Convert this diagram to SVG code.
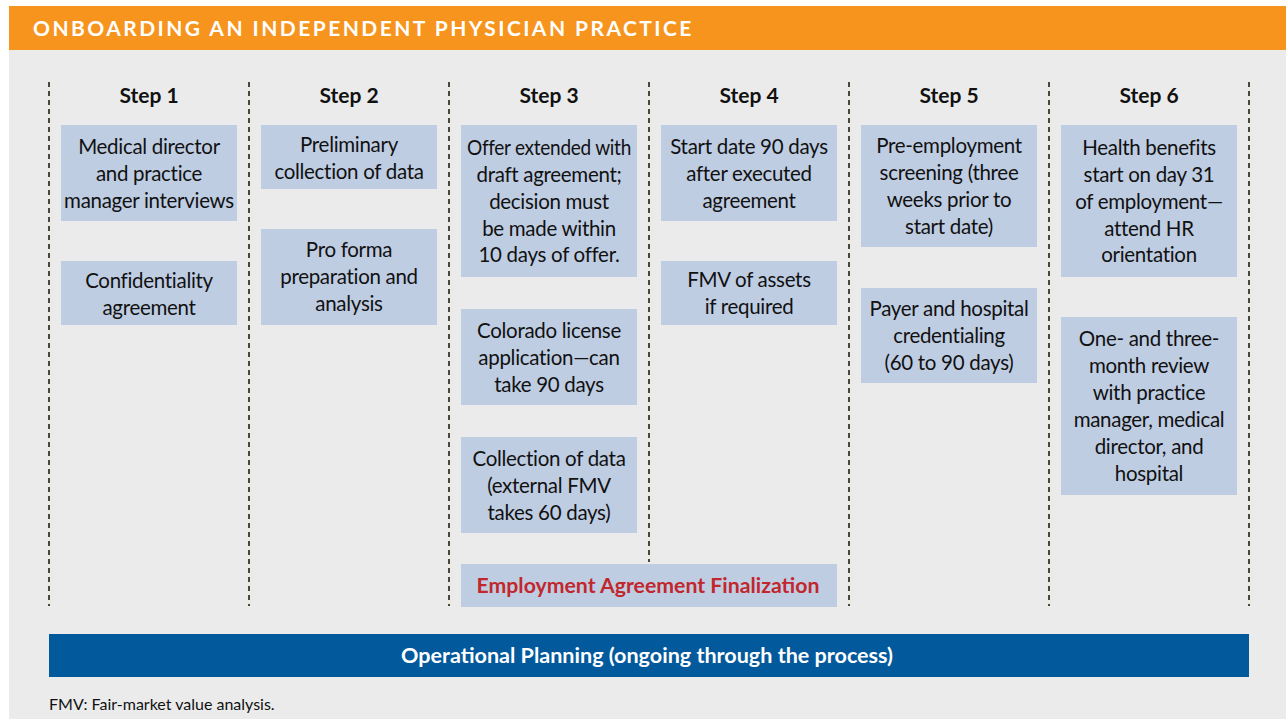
<svg xmlns="http://www.w3.org/2000/svg" width="1286" height="719" viewBox="0 0 1286 719">
<style>
.bg{fill:#ebebeb}
.hdr{fill:#f7941d}
.ttl{font-family:Lato,"Liberation Sans",sans-serif;font-weight:700;font-size:21px;fill:#fff;letter-spacing:2.6px}
.step{font-family:Lato,"Liberation Sans",sans-serif;font-weight:700;font-size:21px;fill:#111;text-anchor:middle}
.box{fill:#bfcde3}
.t{font-family:Lato,"Liberation Sans",sans-serif;font-size:20.5px;fill:#111;text-anchor:middle;letter-spacing:-0.3px}
.red{font-family:Lato,"Liberation Sans",sans-serif;font-weight:700;font-size:21px;fill:#c1272d;text-anchor:middle}
.sep{stroke:#474747;stroke-width:2;stroke-dasharray:5 4;fill:none}
.sep2{stroke:#f1e6c4;stroke-width:1;fill:none}
.bar{fill:#02599c}
.bart{font-family:Lato,"Liberation Sans",sans-serif;font-weight:700;font-size:21px;fill:#fff;text-anchor:middle}
.fn{font-family:Lato,"Liberation Sans",sans-serif;font-size:16px;fill:#111}
</style>
<rect x="0" y="0" width="1286" height="719" fill="#fff"/>
<rect class="bg" x="9" y="49" width="1277" height="670"/>
<rect class="hdr" x="9" y="6" width="1277" height="44"/>
<text class="ttl" x="33" y="36" textLength="661" lengthAdjust="spacing">ONBOARDING AN INDEPENDENT PHYSICIAN PRACTICE</text>

<g id="connectors">
<line class="sep2" x1="50" y1="82" x2="50" y2="606"/>
<line class="sep" x1="49" y1="82" x2="49" y2="606"/>
<line class="sep2" x1="250" y1="82" x2="250" y2="606"/>
<line class="sep" x1="249" y1="82" x2="249" y2="606"/>
<line class="sep2" x1="450" y1="82" x2="450" y2="606"/>
<line class="sep" x1="449" y1="82" x2="449" y2="606"/>
<line class="sep2" x1="650" y1="82" x2="650" y2="562"/>
<line class="sep" x1="649" y1="82" x2="649" y2="562"/>
<line class="sep2" x1="850" y1="82" x2="850" y2="606"/>
<line class="sep" x1="849" y1="82" x2="849" y2="606"/>
<line class="sep2" x1="1050" y1="82" x2="1050" y2="606"/>
<line class="sep" x1="1049" y1="82" x2="1049" y2="606"/>
<line class="sep2" x1="1250" y1="82" x2="1250" y2="606"/>
<line class="sep" x1="1249" y1="82" x2="1249" y2="606"/>
</g>

<g id="step1">
<text class="step" x="149" y="103">Step 1</text>
<g id="s1b1"><rect class="box" x="61" y="125" width="176" height="96"/>
<text class="t" x="149" y="154">Medical director</text>
<text class="t" x="149" y="181">and practice</text>
<text class="t" x="149" y="208">manager interviews</text></g>
<g id="s1b2"><rect class="box" x="61" y="261" width="176" height="64"/>
<text class="t" x="149" y="288">Confidentiality</text>
<text class="t" x="149" y="315">agreement</text></g>
</g>

<g id="step2">
<text class="step" x="349" y="103">Step 2</text>
<g id="s2b1"><rect class="box" x="261" y="125" width="176" height="64"/>
<text class="t" x="349" y="152">Preliminary</text>
<text class="t" x="349" y="179">collection of data</text></g>
<g id="s2b2"><rect class="box" x="261" y="229" width="176" height="96"/>
<text class="t" x="349" y="257">Pro forma</text>
<text class="t" x="349" y="284">preparation and</text>
<text class="t" x="349" y="311">analysis</text></g>
</g>

<g id="step3">
<text class="step" x="549" y="103">Step 3</text>
<g id="s3b1"><rect class="box" x="461" y="125" width="176" height="152"/>
<text class="t" x="549" y="155" textLength="164" lengthAdjust="spacingAndGlyphs">Offer extended with</text>
<text class="t" x="549" y="182">draft agreement;</text>
<text class="t" x="549" y="209">decision must</text>
<text class="t" x="549" y="236">be made within</text>
<text class="t" x="549" y="262">10 days of offer.</text></g>
<g id="s3b2"><rect class="box" x="461" y="309" width="176" height="96"/>
<text class="t" x="549" y="338">Colorado license</text>
<text class="t" x="549" y="365">application—can</text>
<text class="t" x="549" y="392">take 90 days</text></g>
<g id="s3b3"><rect class="box" x="461" y="437" width="176" height="96"/>
<text class="t" x="549" y="466">Collection of data</text>
<text class="t" x="549" y="493">(external FMV</text>
<text class="t" x="549" y="520">takes 60 days)</text></g>
</g>

<g id="step4">
<text class="step" x="749" y="103">Step 4</text>
<g id="s4b1"><rect class="box" x="661" y="125" width="176" height="96"/>
<text class="t" x="749" y="154">Start date 90 days</text>
<text class="t" x="749" y="181">after executed</text>
<text class="t" x="749" y="208">agreement</text></g>
<g id="s4b2"><rect class="box" x="661" y="261" width="176" height="64"/>
<text class="t" x="749" y="287">FMV of assets</text>
<text class="t" x="749" y="314">if required</text></g>
</g>

<g id="finalization">
<rect class="box" x="461" y="564" width="376" height="43"/>
<text class="red" x="648" y="593" textLength="343" lengthAdjust="spacingAndGlyphs">Employment Agreement Finalization</text>
</g>

<g id="step5">
<text class="step" x="949" y="103">Step 5</text>
<g id="s5b1"><rect class="box" x="861" y="125" width="176" height="122"/>
<text class="t" x="949" y="153">Pre-employment</text>
<text class="t" x="949" y="180">screening (three</text>
<text class="t" x="949" y="207">weeks prior to</text>
<text class="t" x="949" y="234">start date)</text></g>
<g id="s5b2"><rect class="box" x="861" y="288" width="176" height="95"/>
<text class="t" x="949" y="316">Payer and hospital</text>
<text class="t" x="949" y="343">credentialing</text>
<text class="t" x="949" y="370">(60 to 90 days)</text></g>
</g>

<g id="step6">
<text class="step" x="1149" y="103">Step 6</text>
<g id="s6b1"><rect class="box" x="1061" y="125" width="176" height="152"/>
<text class="t" x="1149" y="155">Health benefits</text>
<text class="t" x="1149" y="182">start on day 31</text>
<text class="t" x="1149" y="209">of employment—</text>
<text class="t" x="1149" y="236">attend HR</text>
<text class="t" x="1149" y="262">orientation</text></g>
<g id="s6b2"><rect class="box" x="1061" y="317" width="176" height="178"/>
<text class="t" x="1149" y="346">One- and three-</text>
<text class="t" x="1149" y="373">month review</text>
<text class="t" x="1149" y="400">with practice</text>
<text class="t" x="1149" y="427">manager, medical</text>
<text class="t" x="1149" y="454">director, and</text>
<text class="t" x="1149" y="481">hospital</text></g>
</g>

<g id="operational">
<rect class="bar" x="49" y="634" width="1200" height="43"/>
<text class="bart" x="647" y="663" textLength="492" lengthAdjust="spacingAndGlyphs">Operational Planning (ongoing through the process)</text>
</g>

<text class="fn" x="49" y="710">FMV: Fair-market value analysis.</text>
</svg>
